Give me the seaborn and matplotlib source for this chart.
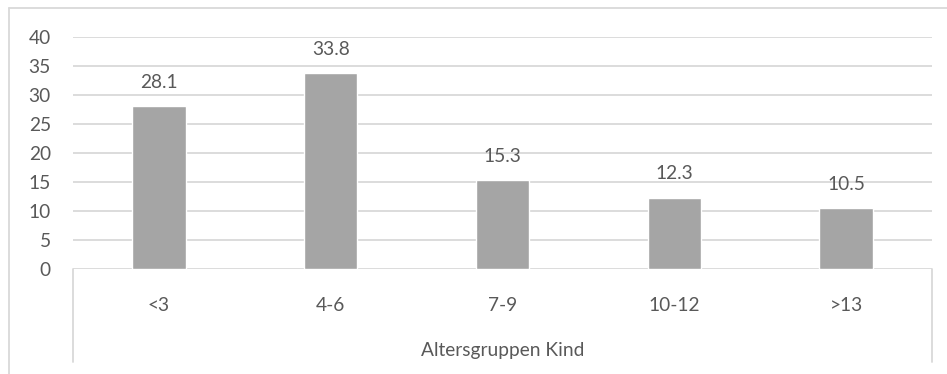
import matplotlib
matplotlib.use("Agg")
import matplotlib.pyplot as plt
from matplotlib.lines import Line2D
import seaborn as sns
import pandas as pd

categories = ["<3", "4-6", "7-9", "10-12", ">13"]
values = [28.1, 33.8, 15.3, 12.3, 10.5]
y_ticks = [0, 5, 10, 15, 20, 25, 30, 35, 40]
x_title = "Altersgruppen Kind"

bar_color = "#A5A5A5"
grid_color = "#D9D9D9"
text_color = "#595959"

sns.set_style("white")
plt.rcParams["font.family"] = ["Lato", "DejaVu Sans"]

W, H = 947, 374
fig = plt.figure(figsize=(W / 100, H / 100), dpi=100)

# plot area in pixel coords
left, right, top, bottom = 73, 932, 37, 269
ax = fig.add_axes([left / W, 1 - bottom / H, (right - left) / W, (bottom - top) / H])

df = pd.DataFrame({"group": categories, "value": values})
sns.barplot(data=df, x="group", y="value", color=bar_color, saturation=1,
            width=0.31, ax=ax)

fs = 13.8
ax.set_ylim(0, 40)
ax.set_yticks(y_ticks)
ax.yaxis.grid(True, color=grid_color, linewidth=1.3)
ax.set_axisbelow(True)
for s in ax.spines.values():
    s.set_visible(False)
ax.tick_params(axis="both", length=0, labelsize=fs, colors=text_color)
ax.tick_params(axis="y", pad=16)
ax.tick_params(axis="x", pad=20)
ax.set_ylabel("")
ax.set_xlabel(x_title, fontsize=fs, color=text_color, labelpad=20)

for c in ax.containers:
    ax.bar_label(c, labels=[f"{v:.1f}" for v in values], padding=11,
                 fontsize=fs, color=text_color)

# category axis box below plot area
box_bottom = 362
for x in (left, right):
    fig.add_artist(Line2D([x / W, x / W], [1 - bottom / H, 1 - box_bottom / H],
                          color=grid_color, linewidth=1.3))

# outer chart frame (cut by image edge on right and bottom)
fx, fy = 8.5, 7.5
fig.add_artist(Line2D([fx / W, fx / W], [1 - fy / H, 0], color=grid_color, linewidth=1.3))
fig.add_artist(Line2D([fx / W, 1], [1 - fy / H, 1 - fy / H], color=grid_color, linewidth=1.3))

fig.savefig("out.png", dpi=100)
